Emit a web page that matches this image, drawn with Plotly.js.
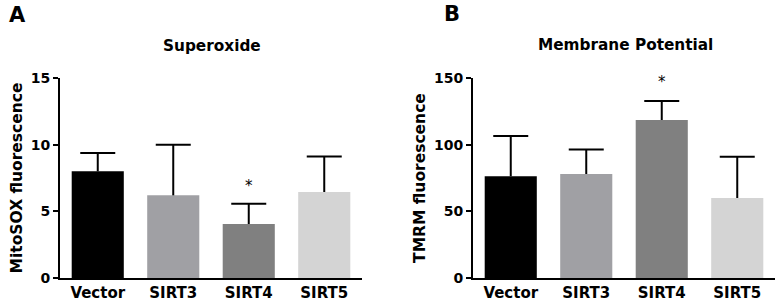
<!DOCTYPE html>
<html>
<head>
<meta charset="utf-8">
<script src="https://cdn.plot.ly/plotly-3.0.1.min.js"></script>
<style>html,body{margin:0;padding:0;background:#fff;}#chart{width:779px;height:306px;}</style>
</head>
<body>
<div id="chart"></div>
<script>
const categories = ["Vector", "SIRT3", "SIRT4", "SIRT5"];
const superoxideMean = [8.0, 6.2, 4.05, 6.45];
const superoxideErr = [1.37, 3.8, 1.52, 2.67];
const membraneMean = [76.3, 78.0, 118.5, 60.0];
const membraneErr = [30.2, 18.3, 14.3, 31.0];
const barColors = ["#000000", "#a0a0a4", "#808080", "#d4d4d4"];
const starA = {cat: "SIRT4", y: 6.9};
const starB = {cat: "SIRT4", y: 147};

const FONT = "DejaVu Sans, Arial, sans-serif";
const PLOT_TOP = 78, PLOT_BOTTOM = 278, W = 779;
const py = p => (PLOT_BOTTOM - p) / (PLOT_BOTTOM - PLOT_TOP);

function barTrace(means, errs, xa, ya) {
  return {
    type: "bar", x: categories, y: means, xaxis: xa, yaxis: ya,
    marker: {color: barColors, line: {width: 0}},
    error_y: {type: "data", symmetric: false, array: errs, arrayminus: errs.map(() => 0),
              color: "#000", thickness: 2, width: 0},
    hoverinfo: "skip"
  };
}
function capTrace(means, errs, xa, ya) {
  return {
    type: "scatter", mode: "markers", x: categories, y: means.map((m, i) => m + errs[i]),
    xaxis: xa, yaxis: ya, cliponaxis: false,
    marker: {symbol: "line-ew-open", size: 25, color: "#000", line: {color: "#000", width: 2}},
    hoverinfo: "skip"
  };
}

const xBase = {
  type: "category", range: [-0.5, 3.5], showline: true, linecolor: "#000", linewidth: 2,
  ticks: "", showgrid: false, zeroline: false,
  tickfont: {family: FONT, size: 15, color: "#000", weight: "bold"}
};
const yBase = {
  showline: true, linecolor: "#000", linewidth: 2, ticks: "outside", ticklen: 5, tickwidth: 2,
  tickcolor: "#000", showgrid: false, zeroline: false,
  tickfont: {family: FONT, size: 14, color: "#000", weight: "bold"}
};
const yTitleFont = {family: FONT, size: 15.5, color: "#000", weight: "bold"};

const layout = {
  width: 779, height: 306,
  margin: {l: 0, r: 0, t: PLOT_TOP, b: 306 - PLOT_BOTTOM},
  paper_bgcolor: "#fff", plot_bgcolor: "#fff",
  showlegend: false, bargap: 0.31,
  xaxis: Object.assign({}, xBase, {domain: [60/W, 362/W], anchor: "y"}),
  yaxis: Object.assign({}, yBase, {range: [0, 15], tickvals: [0, 5, 10, 15], anchor: "x",
    title: {text: "MitoSOX fluorescence", standoff: 4, font: yTitleFont}}),
  xaxis2: Object.assign({}, xBase, {domain: [473/W, 775/W], anchor: "y2"}),
  yaxis2: Object.assign({}, yBase, {range: [0, 150], tickvals: [0, 50, 100, 150], anchor: "x2",
    title: {text: "TMRM fluorescence", standoff: 5, font: yTitleFont}}),
  annotations: [
    {text: "A", xref: "paper", yref: "paper", x: 7/W, y: py(14.5), xanchor: "left", yanchor: "middle",
     showarrow: false, font: {family: FONT, size: 21, color: "#000", weight: "bold"}},
    {text: "B", xref: "paper", yref: "paper", x: 442/W, y: py(13.5), xanchor: "left", yanchor: "middle",
     showarrow: false, font: {family: FONT, size: 21, color: "#000", weight: "bold"}},
    {text: "Superoxide", xref: "paper", yref: "paper", x: 212/W, y: py(46), xanchor: "center", yanchor: "middle",
     showarrow: false, font: {family: FONT, size: 15.3, color: "#000", weight: "bold"}},
    {text: "Membrane Potential", xref: "paper", yref: "paper", x: 625/W, y: py(45), xanchor: "center", yanchor: "middle",
     showarrow: false, font: {family: FONT, size: 15.3, color: "#000", weight: "bold"}},
    {text: "*", xref: "x", yref: "y", x: starA.cat, y: starA.y, showarrow: false, yanchor: "middle",
     font: {family: FONT, size: 15, color: "#000000"}},
    {text: "*", xref: "x2", yref: "y2", x: starB.cat, y: starB.y, showarrow: false, yanchor: "middle",
     font: {family: FONT, size: 15, color: "#000000"}}
  ]
};

Plotly.newPlot("chart", [
  barTrace(superoxideMean, superoxideErr, "x", "y"),
  capTrace(superoxideMean, superoxideErr, "x", "y"),
  barTrace(membraneMean, membraneErr, "x2", "y2"),
  capTrace(membraneMean, membraneErr, "x2", "y2")
], layout, {staticPlot: true, displayModeBar: false});
</script>
</body>
</html>
